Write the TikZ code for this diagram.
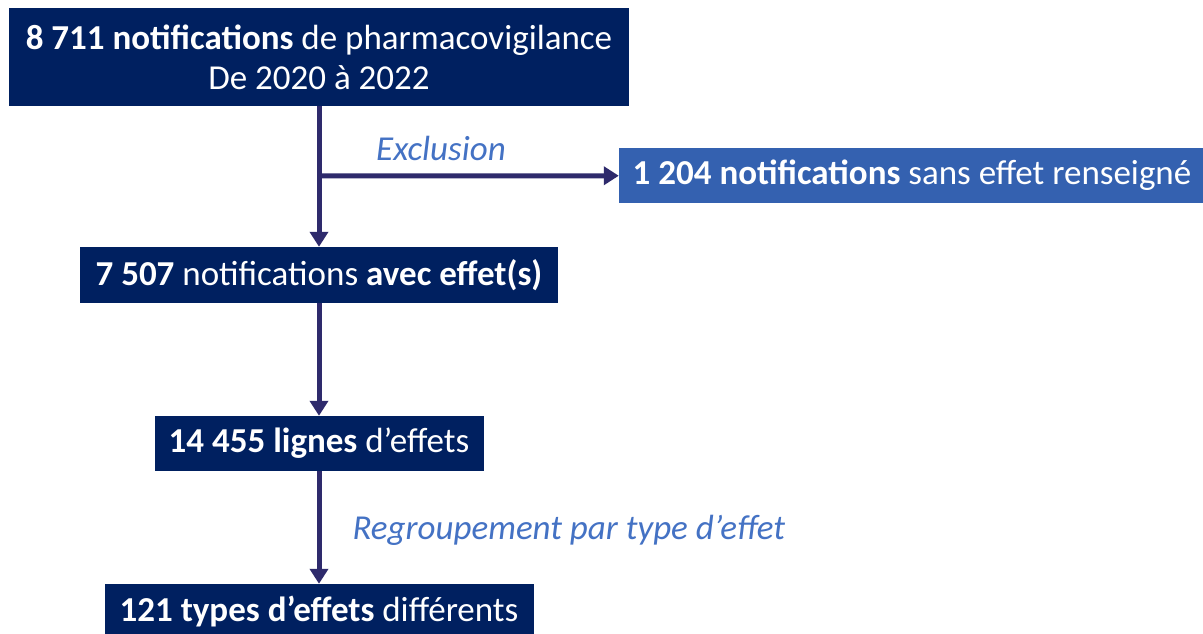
\documentclass[tikz,border=0pt]{standalone}
\usepackage{fontspec}
\setmainfont{Carlito}
\usetikzlibrary{arrows.meta}
\definecolor{marine}{HTML}{002060}
\definecolor{bleu}{HTML}{3461B0}
\definecolor{fleche}{HTML}{2E2A6C}
\definecolor{texte}{HTML}{4472C4}
\begin{document}
\begin{tikzpicture}[x=1pt,y=-1pt]
\tikzset{boite/.style={fill=marine, text=white, inner sep=0pt, font=\fontsize{35}{40}\selectfont, align=center},
  lien/.style={draw=fleche, line width=5pt, -{Triangle[width=18pt,length=15pt]}},
  commentaire/.style={text=texte, font=\fontsize{35}{40}\selectfont\itshape}}
\clip (0, 0) rectangle (1203, 634);
\fill[white] (0, 0) rectangle (1203, 634);
\node[boite, minimum width=620pt, minimum height=98pt] (N1) at (319, 57) {\textbf{8 711 notifications} de pharmacovigilance\\De 2020 à 2022};
\node[boite, fill=bleu, minimum width=586pt, minimum height=55pt] (N2) at (912, 175.5) {\textbf{1 204 notifications} sans effet renseigné};
\node[boite, minimum width=478pt, minimum height=56pt] (N3) at (319, 275) {\textbf{7 507} notifications \textbf{avec effet(s)}};
\node[boite, minimum width=329pt, minimum height=55pt] (N4) at (319, 443.5) {\textbf{14 455 lignes} d’effets};
\node[boite, minimum width=429pt, minimum height=56pt] (N5) at (319, 612) {\textbf{121 types d’effets} différents};
\coordinate (B1) at (319, 176);
\node[commentaire] (C1) at (441, 148) {Exclusion};
\node[commentaire, anchor=west] (C2) at (349, 530) {Regroupement par type d’effet};
\draw[lien] (N1) -- (N3);
\draw[lien] (B1) -- (N2);
\draw[lien] (N3) -- (N4);
\draw[lien] (N4) -- (N5);
\end{tikzpicture}
\end{document}
